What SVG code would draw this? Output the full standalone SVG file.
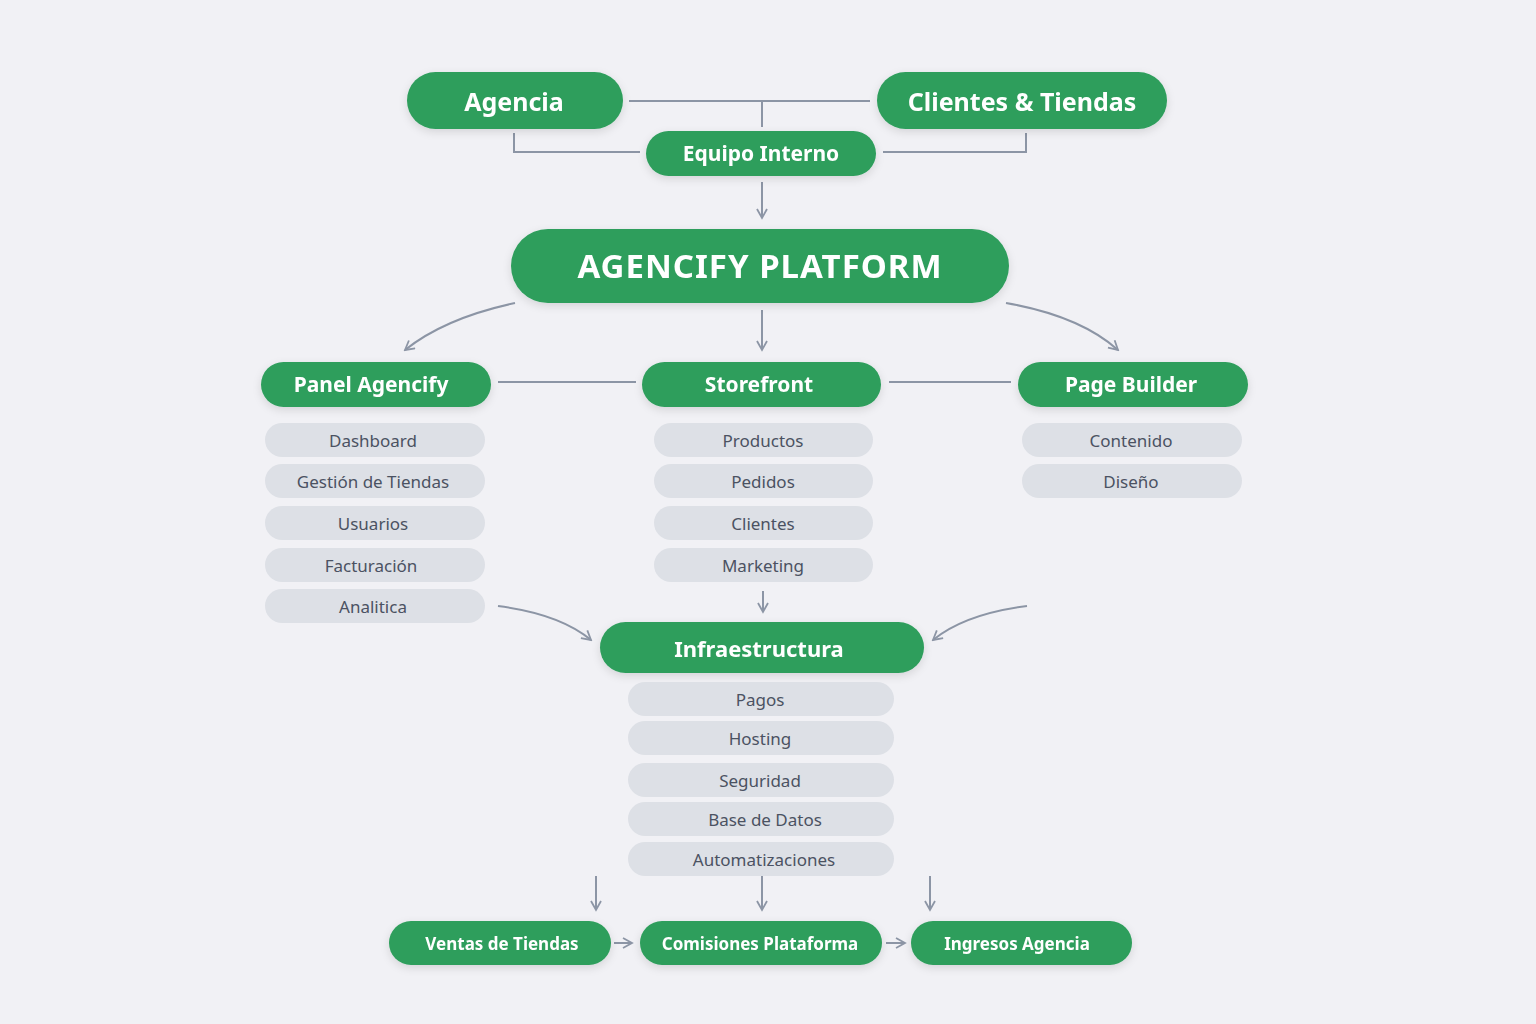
<svg xmlns="http://www.w3.org/2000/svg" width="1536" height="1024" viewBox="0 0 1536 1024">
<defs>
<style>
.g{fill:#2e9e5c}
.p{fill:#dde0e6}
.t{font-family:"Noto Sans","Open Sans",sans-serif;fill:#fff;font-weight:bold;text-anchor:middle;dominant-baseline:central}
.s{font-family:"Noto Sans","Open Sans",sans-serif;fill:#4b5262;font-size:17px;text-anchor:middle;dominant-baseline:central}
.c{fill:none;stroke:#8c95a5;stroke-width:2}
</style>
<marker id="a" viewBox="0 0 12 12" refX="10" refY="6" markerWidth="12" markerHeight="12" markerUnits="userSpaceOnUse" orient="auto"><path d="M1,1 L10,6 L1,11" fill="none" stroke="#8c95a5" stroke-width="1.8"/></marker>
<filter id="sh" x="-10%" y="-30%" width="120%" height="170%"><feDropShadow dx="0" dy="3" stdDeviation="4" flood-color="#000" flood-opacity="0.12"/></filter>
</defs>
<rect width="1536" height="1024" fill="#f1f1f5"/>
<g id="connectors">
<path class="c" d="M629,101 H870 M762,101 V127 M514,133 V152 H640 M883,152 H1026 V133 M498,382 H636 M889,382 H1011"/>
<path class="c" marker-end="url(#a)" d="M762,182 V218"/>
<path class="c" marker-end="url(#a)" d="M515,303 Q445,318 405,350"/>
<path class="c" marker-end="url(#a)" d="M762,310 V350"/>
<path class="c" marker-end="url(#a)" d="M1006,303 Q1080,316 1118,350"/>
<path class="c" marker-end="url(#a)" d="M763,591 V612"/>
<path class="c" marker-end="url(#a)" d="M498,606 Q560,614 591,640"/>
<path class="c" marker-end="url(#a)" d="M1027,606 Q965,614 933,640"/>
<path class="c" marker-end="url(#a)" d="M596,876 V910"/>
<path class="c" marker-end="url(#a)" d="M762,876 V910"/>
<path class="c" marker-end="url(#a)" d="M930,876 V910"/>
<path class="c" marker-end="url(#a)" d="M614,943 H632"/>
<path class="c" marker-end="url(#a)" d="M886,943 H905"/>
</g>
<g id="agencia" filter="url(#sh)"><rect class="g" x="407" y="72" width="216" height="57" rx="28.5"/><text class="t" x="514" y="101" font-size="25" font-weight="600">Agencia</text></g>
<g id="clientes" filter="url(#sh)"><rect class="g" x="877" y="72" width="290" height="57" rx="28.5"/><text class="t" x="1022" y="101" font-size="25" font-weight="600">Clientes &amp; Tiendas</text></g>
<g id="equipo" filter="url(#sh)"><rect class="g" x="646" y="131" width="230" height="45" rx="22.5"/><text class="t" x="761" y="153" font-size="21">Equipo Interno</text></g>
<g id="platform" filter="url(#sh)"><rect class="g" x="511" y="229" width="498" height="74" rx="37"/><text class="t" x="760" y="265" font-size="33" letter-spacing="1">AGENCIFY PLATFORM</text></g>
<g id="panel" filter="url(#sh)"><rect class="g" x="261" y="362" width="230" height="45" rx="22.5"/><text class="t" x="371" y="384" font-size="21">Panel Agencify</text></g>
<g id="storefront" filter="url(#sh)"><rect class="g" x="642" y="362" width="239" height="45" rx="22.5"/><text class="t" x="759" y="384" font-size="21">Storefront</text></g>
<g id="pagebuilder" filter="url(#sh)"><rect class="g" x="1018" y="362" width="230" height="45" rx="22.5"/><text class="t" x="1131" y="384" font-size="21">Page Builder</text></g>
<g id="panel-items">
<rect class="p" x="265" y="423" width="220" height="34" rx="17"/><text class="s" x="373" y="440">Dashboard</text>
<rect class="p" x="265" y="464" width="220" height="34" rx="17"/><text class="s" x="373" y="481">Gestión de Tiendas</text>
<rect class="p" x="265" y="506" width="220" height="34" rx="17"/><text class="s" x="373" y="523">Usuarios</text>
<rect class="p" x="265" y="548" width="220" height="34" rx="17"/><text class="s" x="371" y="565">Facturación</text>
<rect class="p" x="265" y="589" width="220" height="34" rx="17"/><text class="s" x="373" y="606">Analitica</text>
</g>
<g id="store-items">
<rect class="p" x="654" y="423" width="219" height="34" rx="17"/><text class="s" x="763" y="440">Productos</text>
<rect class="p" x="654" y="464" width="219" height="34" rx="17"/><text class="s" x="763" y="481">Pedidos</text>
<rect class="p" x="654" y="506" width="219" height="34" rx="17"/><text class="s" x="763" y="523">Clientes</text>
<rect class="p" x="654" y="548" width="219" height="34" rx="17"/><text class="s" x="763" y="565">Marketing</text>
</g>
<g id="builder-items">
<rect class="p" x="1022" y="423" width="220" height="34" rx="17"/><text class="s" x="1131" y="440">Contenido</text>
<rect class="p" x="1022" y="464" width="220" height="34" rx="17"/><text class="s" x="1131" y="481">Diseño</text>
</g>
<g id="infra" filter="url(#sh)"><rect class="g" x="600" y="622" width="324" height="51" rx="25.5"/><text class="t" x="759" y="648" font-size="22">Infraestructura</text></g>
<g id="infra-items">
<rect class="p" x="628" y="682" width="266" height="34" rx="17"/><text class="s" x="760" y="699">Pagos</text>
<rect class="p" x="628" y="721" width="266" height="34" rx="17"/><text class="s" x="760" y="738">Hosting</text>
<rect class="p" x="628" y="763" width="266" height="34" rx="17"/><text class="s" x="760" y="780">Seguridad</text>
<rect class="p" x="628" y="802" width="266" height="34" rx="17"/><text class="s" x="765" y="819">Base de Datos</text>
<rect class="p" x="628" y="842" width="266" height="34" rx="17"/><text class="s" x="764" y="859">Automatizaciones</text>
</g>
<g id="ventas" filter="url(#sh)"><rect class="g" x="389" y="921" width="222" height="44" rx="22"/><text class="t" x="502" y="943" font-size="17" font-weight="600">Ventas de Tiendas</text></g>
<g id="comisiones" filter="url(#sh)"><rect class="g" x="640" y="921" width="242" height="44" rx="22"/><text class="t" x="760" y="943" font-size="17" font-weight="600">Comisiones Plataforma</text></g>
<g id="ingresos" filter="url(#sh)"><rect class="g" x="911" y="921" width="221" height="44" rx="22"/><text class="t" x="1017" y="943" font-size="17" font-weight="600">Ingresos Agencia</text></g>
</svg>
